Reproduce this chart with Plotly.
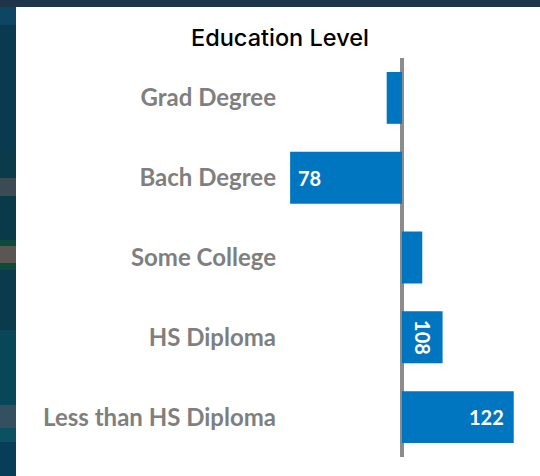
import plotly.graph_objects as go

# Education level index values (100 = baseline, bars diverge from it)
categories = ["Grad Degree", "Bach Degree", "Some College", "HS Diploma", "Less than HS Diploma"]
values = [97, 78, 104, 108, 122]
baseline = 100
show_label = [False, True, False, True, True]
rotate_label = [False, False, False, True, False]   # narrow bar -> label turned 90 degrees

W, H = 540, 476
ML, MR, MT, MB = 282, 10, 58, 19
PW, PH = W - ML - MR, H - MT - MB

BAR_COLOR = "#0076c0"
LABEL_GRAY = "#7f7f7f"

deviation = [v - baseline for v in values]

fig = go.Figure()
fig.add_trace(go.Bar(
    y=categories, x=deviation, orientation="h",
    marker=dict(color=BAR_COLOR, line=dict(width=0)),
    hoverinfo="skip",
))

# data labels: at the tip of the bar, or centred and rotated when the bar is narrow
label_font = dict(family="Lato", size=20, color="white", weight="bold")
for cat, val, dev, show, rot in zip(categories, values, deviation, show_label, rotate_label):
    if not show:
        continue
    if rot:
        fig.add_annotation(x=dev / 2, y=cat, text=str(val), textangle=90,
                           showarrow=False, font=label_font)
    else:
        fig.add_annotation(x=dev, y=cat, text=str(val), showarrow=False, font=label_font,
                           xanchor="left" if dev < 0 else "right",
                           xshift=6 if dev < 0 else -8)

def px_x(p):
    return (p - ML) / PW

def px_y(p):
    return 1 - (p - MT) / PH

# dark photo backdrop peeking out around the white card (rough colour bands)
backdrop = [
    (0, 25, "#0c4662"), (25, 150, "#0a3a50"), (150, 178, "#0b3b4a"),
    (178, 196, "#3b4a53"), (196, 240, "#0a3a4a"), (240, 246, "#0d4a3c"),
    (246, 263, "#5a5752"), (263, 270, "#0d4a3c"), (270, 330, "#0a3a4c"),
    (330, 405, "#074758"), (405, 428, "#34505f"), (428, 442, "#0a5262"),
    (442, 476, "#083d5a"),
]
for y0, y1, col in backdrop:
    fig.add_shape(type="rect", xref="paper", yref="paper", layer="below",
                  x0=px_x(0), x1=px_x(16), y0=px_y(y1), y1=px_y(y0),
                  fillcolor=col, line=dict(width=0))
fig.add_shape(type="rect", xref="paper", yref="paper", layer="below",
              x0=px_x(0), x1=px_x(W), y0=px_y(7), y1=px_y(0),
              fillcolor="#1e3449", line=dict(width=0))

fig.update_layout(
    width=W, height=H,
    margin=dict(l=ML, r=MR, t=MT, b=MB),
    paper_bgcolor="white", plot_bgcolor="white",
    showlegend=False, bargap=0.35,
    title=dict(text="Education Level", x=280 / W, xanchor="center",
               y=1 - 38 / H, yanchor="middle",
               font=dict(family="Inter", size=23.5, color="black", weight=500)),
    xaxis=dict(range=[-23.6, 25.2], showticklabels=False, showgrid=False,
               zeroline=True, zerolinecolor="#8c8c8c", zerolinewidth=4, fixedrange=True),
    yaxis=dict(autorange="reversed", showgrid=False, ticks="", ticklabelstandoff=5,
               tickfont=dict(family="Lato", size=24, color=LABEL_GRAY, weight="bold")),
)

fig.write_html("out.html", config={"displayModeBar": False},
               post_script="document.body.style.margin='0';")
